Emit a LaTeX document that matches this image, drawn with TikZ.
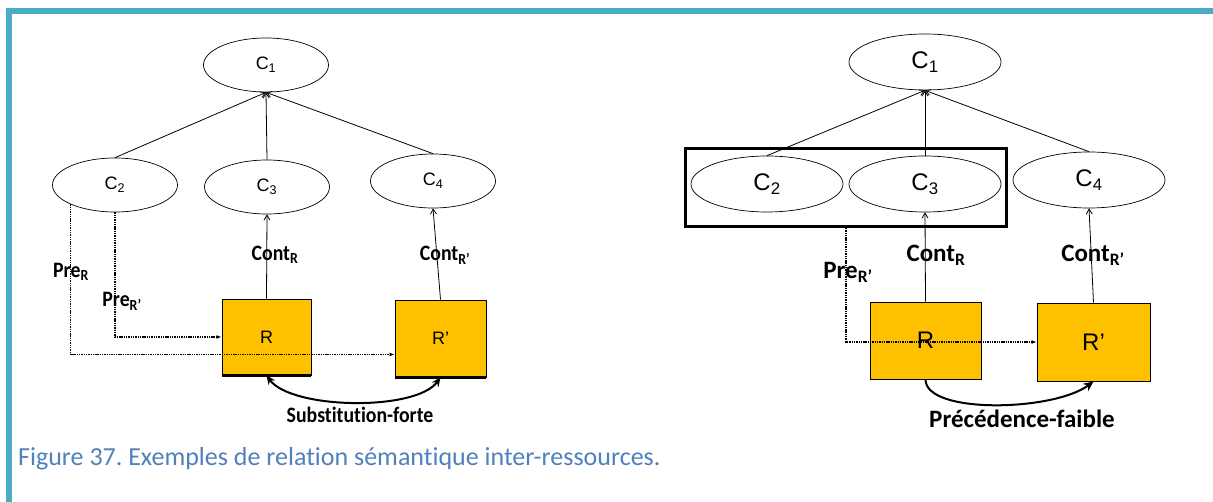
\documentclass[tikz,border=0pt]{standalone}
\usepackage{fontspec}
\setmainfont{Liberation Sans}
\newfontfamily\calibri[Ligatures=NoCommon]{Carlito}
\usepackage{graphicx}
\usepackage{tikz}
\usetikzlibrary{arrows.meta, positioning, shapes.geometric, calc}
\definecolor{frameteal}{RGB}{75,172,198}
\definecolor{capblue}{RGB}{79,129,189}
\definecolor{resgold}{RGB}{255,192,0}
\newcommand{\narrow}[1]{\scalebox{0.9}[1]{#1}}

\begin{document}
\begin{tikzpicture}[x=1pt, y=-1pt,
  concept/.style={draw, ellipse, inner sep=0pt, line width=0.7pt, minimum width=125pt, minimum height=54pt, font=\fontsize{18}{18}\selectfont},
  bigconcept/.style={concept, minimum width=152pt, minimum height=56pt, font=\fontsize{24}{24}\selectfont},
  resource/.style={draw, fill=resgold, line width=0.9pt, inner sep=0pt},
  isa/.style={-{Straight Barb[length=5pt,width=6pt]}, line width=0.8pt},
  prec/.style={-{Latex[length=5pt,width=4pt]}, line width=1.2pt, dash pattern=on 1.4pt off 0.9pt},
  relation/.style={line width=2pt},
  leftlabel/.style={inner sep=0pt, font=\calibri\bfseries\fontsize{22}{22}\selectfont},
  rightlabel/.style={inner sep=0pt, font=\calibri\bfseries\fontsize{25}{25}\selectfont}]
\fill[white] (0,0) rectangle (1213,502);
\useasboundingbox (0,0) rectangle (1213,502);
\draw[frameteal, line width=6pt, line join=miter] (8.5,502) -- (8.5,11.5) -- (1213,11.5);

\node[concept] (lC1) at (266,65) {C\textsubscript{1}};
\node[concept] (lC2) at (115,185) {C\textsubscript{2}};
\node[concept] (lC3) at (267,187) {C\textsubscript{3}};
\node[concept] (lC4) at (433,181) {C\textsubscript{4}};
\node[resource, minimum width=89pt, minimum height=76pt, font=\fontsize{18}{18}\selectfont] (lR) at (266.5,337) {R};
\node[resource, minimum width=91pt, minimum height=77pt, font=\fontsize{18}{18}\selectfont] (lRp) at (440.5,338.5) {R’};
\draw[line width=2.5pt] (lR.south west) -- (lR.south east);
\draw[line width=2.5pt] (lRp.south west) -- (lRp.south east);

\draw[isa] (lC2.north) -- (lC1.south);
\draw[isa] (lC3.north) -- (lC1.south);
\draw[isa] (lC4.north) -- (lC1.south);
\draw[isa] (lR.north) -- (lC3.south);
\draw[isa] (lRp.north) -- (lC4.south);
\draw[prec] (lC2.south west) |- ([yshift=-16pt]lRp.west);
\draw[prec] (lC2.south) |- (lR.west);
\draw[relation, {Stealth[length=9pt,width=8pt]}-{Stealth[length=9pt,width=8pt]}] (lR.south) .. controls +(25,34) and +(-25,34) .. (lRp.south);

\node[leftlabel] (lpreR) at (71,272) {\narrow{Pre\textsubscript{R}}};
\node[leftlabel] (lpreRp) at (122,301) {\narrow{Pre\textsubscript{R’}}};
\node[leftlabel] (lcontR) at (275,255) {\narrow{Cont\textsubscript{R}}};
\node[leftlabel] (lcontRp) at (445,255) {\narrow{Cont\textsubscript{R’}}};
\node[leftlabel] (lsubst) at (360,414.5) {\narrow{Substitution-forte}};

\node[bigconcept] (rC1) at (925,62) {C\textsubscript{1}};
\node[draw, line width=3pt, inner sep=0pt, minimum width=321pt, minimum height=78pt] (grp) at (846,187.5) {};
\node[bigconcept] (rC2) at (767,184) {C\textsubscript{2}};
\node[bigconcept] (rC3) at (925,184) {C\textsubscript{3}};
\node[bigconcept] (rC4) at (1089,180) {C\textsubscript{4}};
\node[resource, minimum width=111pt, minimum height=77pt, font=\fontsize{24}{24}\selectfont] (rR) at (925.5,340.5) {R};
\node[resource, minimum width=113pt, minimum height=78pt, font=\fontsize{24}{24}\selectfont] (rRp) at (1093.5,342) {R’};

\draw[isa] (rC2.north) -- (rC1.south);
\draw[isa] (rC3.north) -- (rC1.south);
\draw[isa] (rC4.north) -- (rC1.south);
\draw[isa] (rR.north) -- (rC3.south);
\draw[isa] (rRp.north) -- (rC4.south);
\draw[prec] (grp.south) |- (rRp.west);
\draw[relation, -{Stealth[length=10pt,width=9pt]}] (rR.south) .. controls +(0,35) and +(-40,30) .. (rRp.south);

\node[rightlabel] (rpreRp) at (848,272) {Pre\textsubscript{R’}};
\node[rightlabel] (rcontR) at (936,255) {Cont\textsubscript{R}};
\node[rightlabel] (rcontRp) at (1093,255) {Cont\textsubscript{R’}};
\node[rightlabel] (rprec) at (1022,419) {Précédence-faible};

\node[anchor=base west, inner sep=0pt, text=capblue, font=\calibri\fontsize{26}{26}\selectfont] (caption) at (18,465) {\frenchspacing Figure 37. Exemples de relation sémantique inter-ressources.};
\end{tikzpicture}
\end{document}
